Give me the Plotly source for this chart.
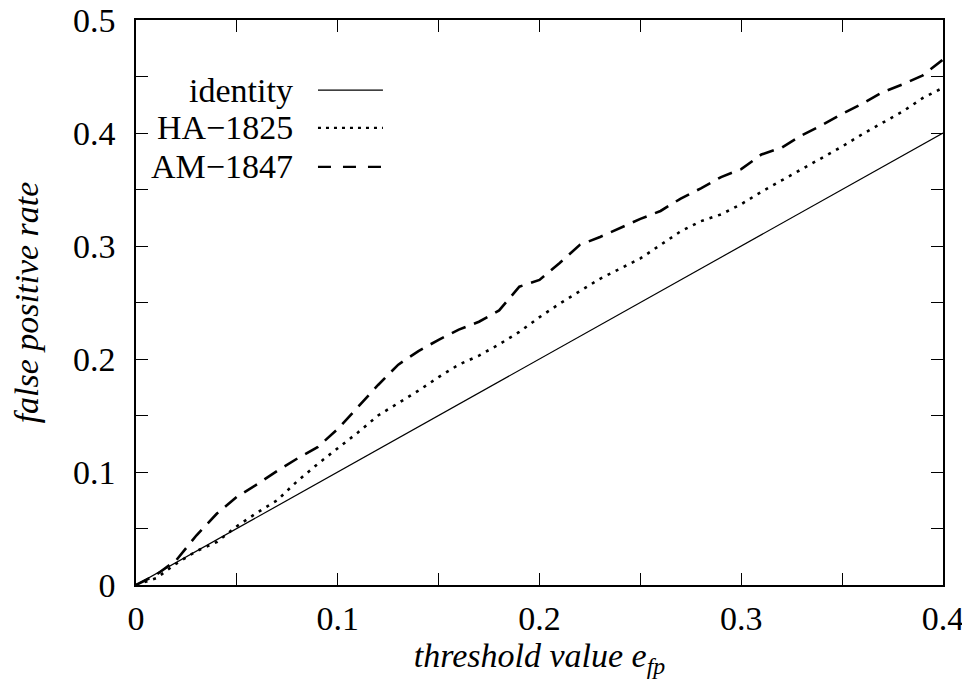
import plotly.graph_objects as go

x_vals = [round(i * 0.01, 2) for i in range(41)]

identity = list(x_vals)

ha_1825 = [0.000, 0.006, 0.019, 0.030, 0.038, 0.052, 0.064, 0.075, 0.092, 0.107,
           0.121, 0.135, 0.150, 0.161, 0.172, 0.184, 0.195, 0.203, 0.213, 0.224,
           0.237, 0.249, 0.260, 0.271, 0.280, 0.289, 0.301, 0.313, 0.322, 0.328,
           0.337, 0.348, 0.358, 0.368, 0.378, 0.388, 0.399, 0.409, 0.419, 0.431,
           0.440]

am_1847 = [0.000, 0.009, 0.022, 0.044, 0.063, 0.078, 0.089, 0.101, 0.112, 0.122,
           0.138, 0.158, 0.177, 0.195, 0.207, 0.217, 0.226, 0.233, 0.243, 0.264,
           0.270, 0.285, 0.301, 0.308, 0.316, 0.324, 0.331, 0.342, 0.351, 0.361,
           0.368, 0.381, 0.387, 0.398, 0.407, 0.417, 0.426, 0.436, 0.443, 0.451,
           0.465]

series_names = ["identity", "HA\u22121825", "AM\u22121847"]

x_tickvals = [0, 0.05, 0.1, 0.15, 0.2, 0.25, 0.3, 0.35, 0.4]
x_ticktext = ["0", " ", "0.1", " ", "0.2", " ", "0.3", " ", "0.4"]
y_tickvals = [0, 0.05, 0.1, 0.15, 0.2, 0.25, 0.3, 0.35, 0.4, 0.45, 0.5]
y_ticktext = ["0", " ", "0.1", " ", "0.2", " ", "0.3", " ", "0.4", " ", "0.5"]

FONT = "Liberation Serif"
FS = 34

styles = [
    dict(color="black", width=1.2, dash="solid"),
    dict(color="black", width=2.6, dash="3px,6px"),
    dict(color="black", width=2.6, dash="15px,9px"),
]

fig = go.Figure()
for name, ys, st in zip(series_names, [identity, ha_1825, am_1847], styles):
    fig.add_trace(go.Scatter(x=x_vals, y=ys, mode="lines", name=name,
                             line=st, showlegend=False))

# legend (text right-aligned, sample to the right)
leg_y = [0.876, 0.809, 0.740]
leg_dash = ["solid", "3px,5px", "13px,12px"]
leg_w = [1.2, 2.2, 2.4]
for name, yy, d, w in zip(series_names, leg_y, leg_dash, leg_w):
    fig.add_annotation(x=0.197, y=yy, xref="paper", yref="paper", text=name,
                       showarrow=False, xanchor="right", yanchor="middle",
                       font=dict(family=FONT, size=FS, color="black"))
    fig.add_shape(type="line", xref="paper", yref="paper",
                  x0=0.2255, x1=0.306, y0=yy, y1=yy,
                  line=dict(color="black", width=w, dash=d))

axis_common = dict(showgrid=False, zeroline=False, showline=True, linecolor="black",
                   linewidth=1.5, mirror="ticks", ticks="inside", ticklen=12,
                   tickwidth=1.2, tickcolor="black", automargin=False,
                   ticklabeloverflow="allow",
                   tickfont=dict(family=FONT, size=FS, color="black"))

fig.update_layout(
    width=970, height=688,
    margin=dict(l=128, r=35, t=12, b=111),
    paper_bgcolor="white", plot_bgcolor="white",
    font=dict(family=FONT, color="black"),
    xaxis=dict(range=[0, 0.4], tickmode="array", tickvals=x_tickvals, ticktext=x_ticktext,
               ticklabelstandoff=2,
               title=dict(text="<i>threshold value e<sub>fp</sub></i>",
                          font=dict(family=FONT, size=FS), standoff=4),
               **axis_common),
    yaxis=dict(range=[0, 0.5], tickmode="array", tickvals=y_tickvals, ticktext=y_ticktext,
               ticklabelstandoff=12,
               title=dict(text="<i>false positive rate</i>",
                          font=dict(family=FONT, size=FS), standoff=24),
               **axis_common),
)

fig.write_html("out.html")
